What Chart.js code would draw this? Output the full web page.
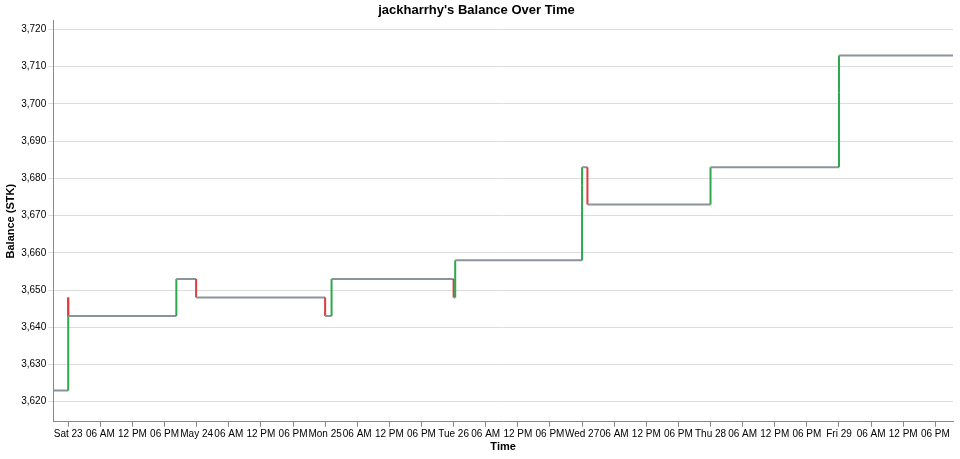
<!DOCTYPE html>
<html><head><meta charset="utf-8">
<script src="https://cdn.jsdelivr.net/npm/chart.js@4"></script>
<style>html,body{margin:0;background:#fff}#w{width:960px;height:459px}</style>
</head><body><div id="w"><canvas id="c"></canvas></div>
<script>
// hours relative to Sat 23 May 2020 00:00
const startHour = -2.8, endHour = 165.3;
const startBalance = 3623;
const stepHours =  [0,    0,    20.2, 23.9, 48,   49.2, 72,   72.3, 96,   96,   97,   120,  144,  144];
const stepValues = [3648, 3643, 3653, 3648, 3643, 3653, 3648, 3658, 3678, 3683, 3673, 3683, 3703, 3713];
const dayLabels = ['Sat 23','May 24','Mon 25','Tue 26','Wed 27','Thu 28','Fri 29'];
const hourLabels = {6:'06 AM',12:'12 PM',18:'06 PM'};

const pts = [{x:startHour,y:startBalance}];
let cur = startBalance;
stepHours.forEach((t,i)=>{ pts.push({x:t,y:cur}); cur=stepValues[i]; pts.push({x:t,y:cur}); });
pts.push({x:endHour,y:cur});

const GRAY='#8b939c', GREEN='#2ea84a', RED='#e0393e';
new Chart(document.getElementById('c'),{
  type:'line',
  data:{datasets:[{data:pts,borderWidth:2,pointRadius:0,borderColor:GRAY,
    segment:{borderColor:c=>c.p1.parsed.y>c.p0.parsed.y?GREEN:(c.p1.parsed.y<c.p0.parsed.y?RED:GRAY)}}]},
  options:{responsive:true,maintainAspectRatio:false,animation:false,
    layout:{padding:{left:0,right:7,top:0,bottom:1}},
    plugins:{legend:{display:false},tooltip:{enabled:false},
      title:{display:true,text:"jackharrhy's Balance Over Time",color:'#000',font:{family:'Liberation Sans, Arial',size:13,weight:'bold'},padding:{top:3,bottom:2}}},
    scales:{
      x:{type:'linear',min:startHour,max:endHour,
        afterBuildTicks:a=>{const t=[];for(let h=0;h<=endHour;h+=6)t.push({value:h});a.ticks=t;},
        ticks:{autoSkip:false,maxRotation:0,color:'#000',font:{family:'Liberation Sans, Arial',size:10},padding:1,
          callback:v=>v%24===0?dayLabels[v/24]:hourLabels[v%24]},
        grid:{drawOnChartArea:false,color:'#888',tickLength:5},border:{color:'#888'},
        title:{display:true,text:'Time',color:'#000',font:{family:'Liberation Sans, Arial',size:11,weight:'bold'},padding:{top:0}}},
      y:{min:3614.6,max:3722.4,
        afterBuildTicks:a=>{const t=[];for(let v=3620;v<=3720;v+=10)t.push({value:v});a.ticks=t;},
        ticks:{color:'#000',font:{family:'Liberation Sans, Arial',size:10},padding:2,callback:v=>v.toLocaleString('en-US')},
        grid:{color:'#ddd',tickLength:5},border:{color:'#888'},
        title:{display:true,text:'Balance (STK)',color:'#000',font:{family:'Liberation Sans, Arial',size:11,weight:'bold'},padding:{bottom:2}}}
    }}
});
</script></body></html>
